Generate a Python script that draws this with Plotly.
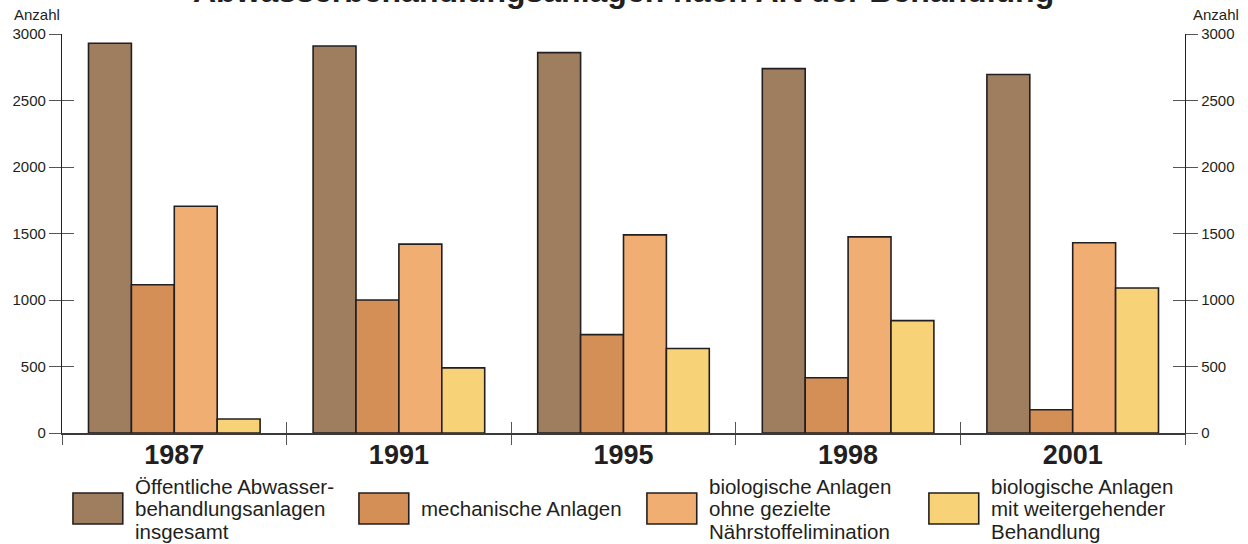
import plotly.graph_objects as go

# ---- data ----
years = ["1987", "1991", "1995", "1998", "2001"]
series_names = [
    "Öffentliche Abwasserbehandlungsanlagen insgesamt",
    "mechanische Anlagen",
    "biologische Anlagen ohne gezielte Nährstoffelimination",
    "biologische Anlagen mit weitergehender Behandlung",
]
legend_lines = [
    ["Öffentliche Abwasser-", "behandlungsanlagen", "insgesamt"],
    ["mechanische Anlagen"],
    ["biologische Anlagen", "ohne gezielte", "Nährstoffelimination"],
    ["biologische Anlagen", "mit weitergehender", "Behandlung"],
]
insgesamt = [2930, 2910, 2860, 2740, 2695]
mechanisch = [1115, 1000, 740, 415, 175]
biologisch_ohne = [1705, 1420, 1490, 1475, 1430]
biologisch_mit = [105, 490, 635, 845, 1090]
values = [insgesamt, mechanisch, biologisch_ohne, biologisch_mit]
y_ticks = [0, 500, 1000, 1500, 2000, 2500, 3000]
title_text = "Abwasserbehandlungsanlagen nach Art der Behandlung"
unit_text = "Anzahl"

# ---- style ----
colors = ["#9F7E5F", "#D38F56", "#F1AE72", "#F7D277"]
outline = "#231F20"
txt = "#231F20"
font_fam = "Liberation Sans, Arial, Helvetica, sans-serif"
W, H = 1248, 544
ml, mr, mt, mb = 58, 63, 34, 111

fig = go.Figure()
for name, vals, col in zip(series_names, values, colors):
    fig.add_trace(go.Bar(
        x=years, y=vals, name=name,
        marker=dict(color=col, line=dict(color=outline, width=1.6)),
        showlegend=False,
    ))

# invisible helper traces so that the extra tick axes get drawn
for xa, ya, xs in [("x", "y2", years), ("x", "y3", years), ("x", "y4", years),
                   ("x2", "y", list(range(len(years))))]:
    fig.add_trace(go.Scatter(x=xs, y=insgesamt, xaxis=xa, yaxis=ya, mode="markers",
                             marker=dict(opacity=0), showlegend=False, hoverinfo="skip"))

yax_common = dict(range=[0, 3000], tickvals=y_ticks, showgrid=False, zeroline=False,
                  ticklen=12, tickcolor="#555555", tickwidth=1.2,
                  tickfont=dict(family=font_fam, size=15, color=txt), fixedrange=True)

fig.update_layout(
    width=W, height=H,
    margin=dict(l=ml, r=mr, t=mt, b=mb),
    paper_bgcolor="white", plot_bgcolor="white",
    barmode="group", bargap=0.236, bargroupgap=0,
    font=dict(family=font_fam, color=txt),
    xaxis=dict(type="category", categoryarray=years, range=[-0.5, 4.5],
               tickson="boundaries", ticks="outside", ticklen=10,
               tickcolor="#555555", tickwidth=1.2, ticklabelstandoff=-3,
               showline=True, linecolor="#3a3a3a", linewidth=2,
               showgrid=False, zeroline=False, fixedrange=True,
               tickfont=dict(family=font_fam, size=27, color=txt, weight="bold")),
    xaxis2=dict(overlaying="x", anchor="y", side="bottom", range=[-0.5, 4.5],
                type="linear", tickmode="linear", tick0=-0.5, dtick=1,
                ticks="inside", ticklen=11, fixedrange=True,
                tickcolor="#555555", tickwidth=1.2, showticklabels=False,
                showgrid=False, zeroline=False, showline=False),
    yaxis=dict(side="left", ticks="outside", showline=True, linecolor=outline,
               linewidth=1.3, **yax_common),
    yaxis2=dict(overlaying="y", side="left", anchor="x", ticks="inside",
                showticklabels=False, showline=False, **yax_common),
    yaxis3=dict(overlaying="y", side="right", anchor="x", ticks="outside",
                showline=True, linecolor=outline, linewidth=1.3, **yax_common),
    yaxis4=dict(overlaying="y", side="right", anchor="x", ticks="inside",
                showticklabels=False, showline=False, **yax_common),
)

plot_h = H - mt - mb
def py(pix):  # pixel row -> paper y
    return (H - mb - pix) / plot_h
def px(pix):  # pixel col -> paper x
    return (pix - ml) / (W - ml - mr)

annotations = [
    dict(text=title_text, xref="paper", yref="paper", x=px(622), y=py(-9),
         xanchor="center", yanchor="middle", showarrow=False,
         font=dict(family=font_fam, size=32, color=txt, weight="bold")),
    dict(text=unit_text, xref="paper", yref="paper", x=px(8), y=py(15),
         xanchor="left", yanchor="middle", showarrow=False,
         font=dict(family=font_fam, size=15, color=txt)),
    dict(text=unit_text, xref="paper", yref="paper", x=px(1241), y=py(15),
         xanchor="right", yanchor="middle", showarrow=False,
         font=dict(family=font_fam, size=15, color=txt)),
]

# ---- manual legend ----
swatch_x = [69, 356, 645, 928]
shapes = []
for i, (sx, col, lines) in enumerate(zip(swatch_x, colors, legend_lines)):
    shapes.append(dict(type="rect", xref="paper", yref="paper",
                       x0=px(sx), x1=px(sx + 50), y0=py(524), y1=py(493),
                       fillcolor=col, line=dict(color=outline, width=1.6)))
    n = len(lines)
    for j, line in enumerate(lines):
        yc = 508.5 + (j - (n - 1) / 2) * 22.5
        annotations.append(dict(text=line, xref="paper", yref="paper",
                                x=px(sx + 60), y=py(yc), xanchor="left", yanchor="middle",
                                showarrow=False,
                                font=dict(family=font_fam, size=20.5, color=txt)))

fig.update_layout(annotations=annotations, shapes=shapes)
fig.write_html("out.html", config={"displayModeBar": False},
               post_script="document.body.style.margin='0px';document.body.style.padding='0px';")
